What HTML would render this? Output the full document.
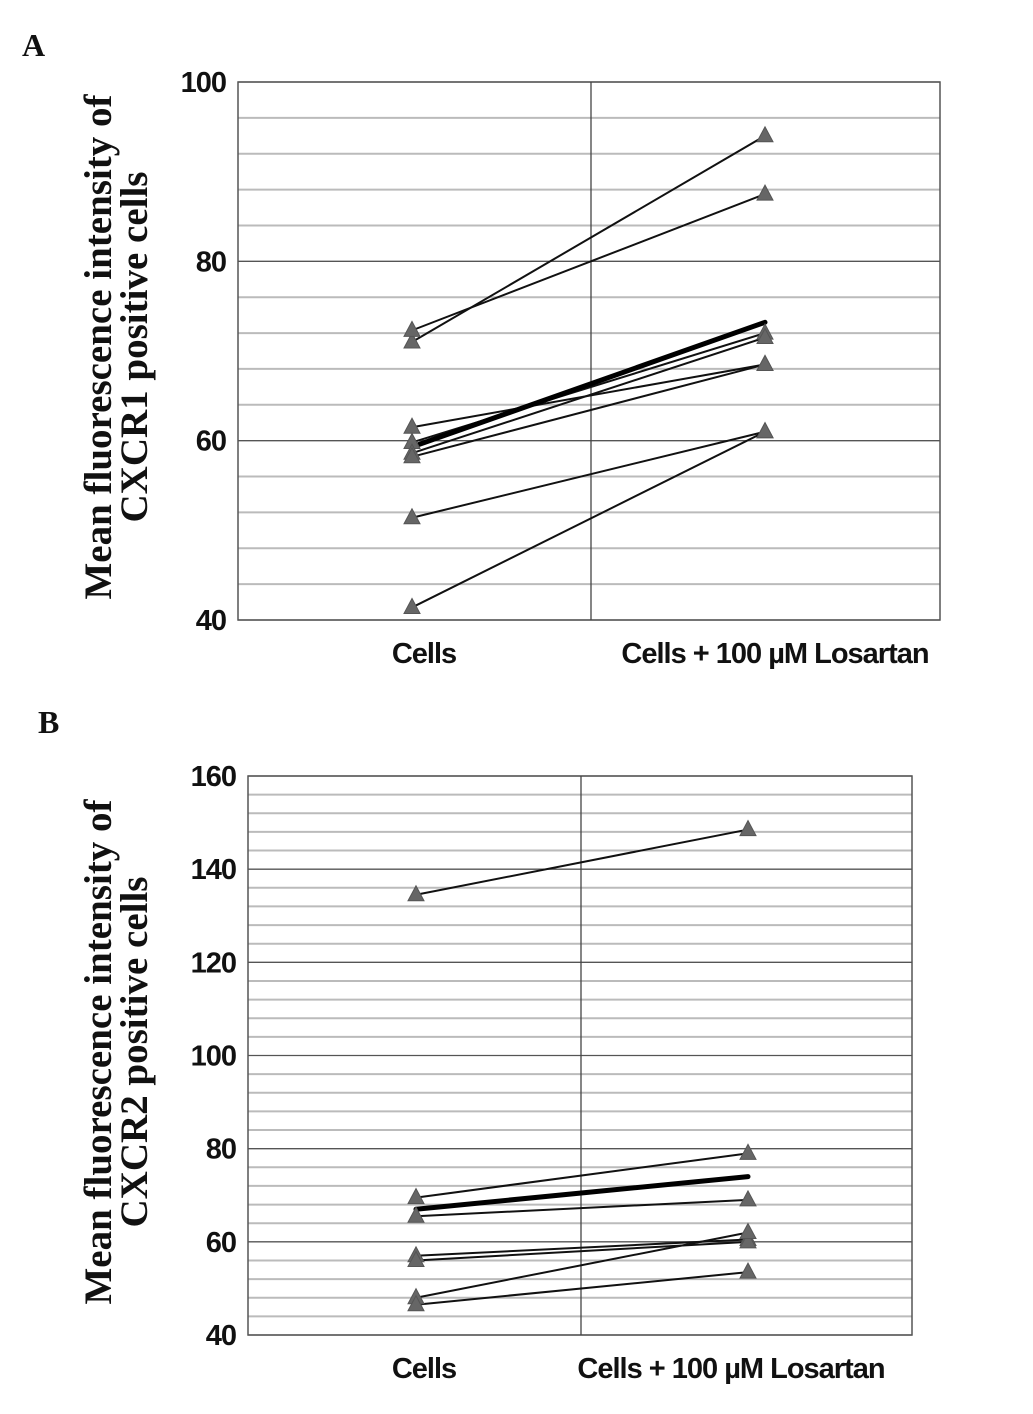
<!DOCTYPE html>
<html><head><meta charset="utf-8"><style>
body{margin:0;background:#fff}
svg{display:block}
.tick{font-family:"Liberation Sans",sans-serif;font-weight:bold;font-size:29px;fill:#111;letter-spacing:-1px}
.ttl{font-family:"Liberation Serif",serif;font-weight:bold;font-size:39px;fill:#111}
.pl{font-family:"Liberation Serif",serif;font-weight:bold;font-size:32px;fill:#111}
</style></head><body>
<svg id="chart" width="1033" height="1414" viewBox="0 0 1033 1414" xmlns="http://www.w3.org/2000/svg">
<text class="pl" x="22" y="56">A</text>
<text class="pl" x="38" y="733">B</text>
<text class="ttl" transform="translate(111,347) rotate(-90)" text-anchor="middle">Mean fluorescence intensity of</text>
<text class="ttl" transform="translate(147,347) rotate(-90)" text-anchor="middle">CXCR1 positive cells</text>
<text class="ttl" transform="translate(111,1052) rotate(-90)" text-anchor="middle">Mean fluorescence intensity of</text>
<text class="ttl" transform="translate(147,1052) rotate(-90)" text-anchor="middle">CXCR2 positive cells</text>
<g id="pa"></g><g id="pb"></g>
</svg>
<script>
const categories=["Cells","Cells + 100 µM Losartan"];
const aCells=[71,72.3,61.5,59.8,58.6,58.2,51.4,41.4];
const aLos=[94,87.5,68.5,72,71.5,68.5,61,61];
const aMean=[59.3,73.2];
const aTicks=[40,60,80,100];
const bCells=[134.5,69.5,65.5,57,56,48,46.5];
const bLos=[148.5,79,69,60.5,60,62,53.5];
const bMean=[67,74];
const bTicks=[40,60,80,100,120,140,160];
const NS="http://www.w3.org/2000/svg";
function mk(g,t,a){const e=document.createElementNS(NS,t);for(const k in a)e.setAttribute(k,a[k]);g.appendChild(e);return e;}
function panel(gid,cfg,cells,los,mean,ticks){
  const g=document.getElementById(gid);
  const min=ticks[0],max=ticks[ticks.length-1];
  const y=v=>cfg.y1+(max-v)/(max-min)*(cfg.y0-cfg.y1);
  const xs=[cfg.cx0,cfg.cx1];
  for(let v=min+4;v<max;v+=4){
    if(ticks.includes(v))continue;
    const l=mk(g,'line',{x1:cfg.x0,x2:cfg.x1,y1:y(v),y2:y(v),stroke:'#bbb','stroke-width':2});
    
    
  }
  ticks.forEach(v=>{
    const l=mk(g,'line',{x1:cfg.x0,x2:cfg.x1,y1:y(v),y2:y(v),stroke:'#555','stroke-width':1.3});
    
    
    const t=mk(g,'text',{x:cfg.x0-12,y:y(v)+10,'text-anchor':'end',class:'tick'});
    t.textContent=v;
    
    
  });
  const f=mk(g,'rect',{x:cfg.x0,y:cfg.y1,width:cfg.x1-cfg.x0,height:cfg.y0-cfg.y1,fill:'none',stroke:'#555','stroke-width':1.5});
  
  
  const vl=mk(g,'line',{x1:cfg.xm,x2:cfg.xm,y1:cfg.y1,y2:cfg.y0,stroke:'#444','stroke-width':1.3});
  
  
  categories.forEach((c,i)=>{
    const t=mk(g,'text',{x:xs[i]+cfg.lo[i],y:cfg.y0+43,'text-anchor':'middle',class:'tick'});
    t.textContent=c;
    
    
  });
  cells.forEach((v,i)=>{
    const l=mk(g,'line',{x1:xs[0],x2:xs[1],y1:y(v),y2:y(los[i]),stroke:'#111','stroke-width':2});
    
    
  });
  const m=mk(g,'line',{x1:xs[0],x2:xs[1],y1:y(mean[0]),y2:y(mean[1]),stroke:'#000','stroke-width':5,'stroke-linecap':'round'});
  
  
  [cells,los].forEach((arr,j)=>arr.forEach(v=>{
    const px=xs[j],py=y(v);
    const p=mk(g,'polygon',{points:`${px},${py-9} ${px-8},${py+6} ${px+8},${py+6}`,fill:'#666',stroke:'#555'});
    
    
  }));
}
panel('pa',{x0:238,x1:940,y0:620,y1:82,xm:591,cx0:412,cx1:765,lo:[12,10]},aCells,aLos,aMean,aTicks);
panel('pb',{x0:248,x1:912,y0:1335,y1:776,xm:581,cx0:416,cx1:748,lo:[8,-17]},bCells,bLos,bMean,bTicks);
</script>
</body></html>
